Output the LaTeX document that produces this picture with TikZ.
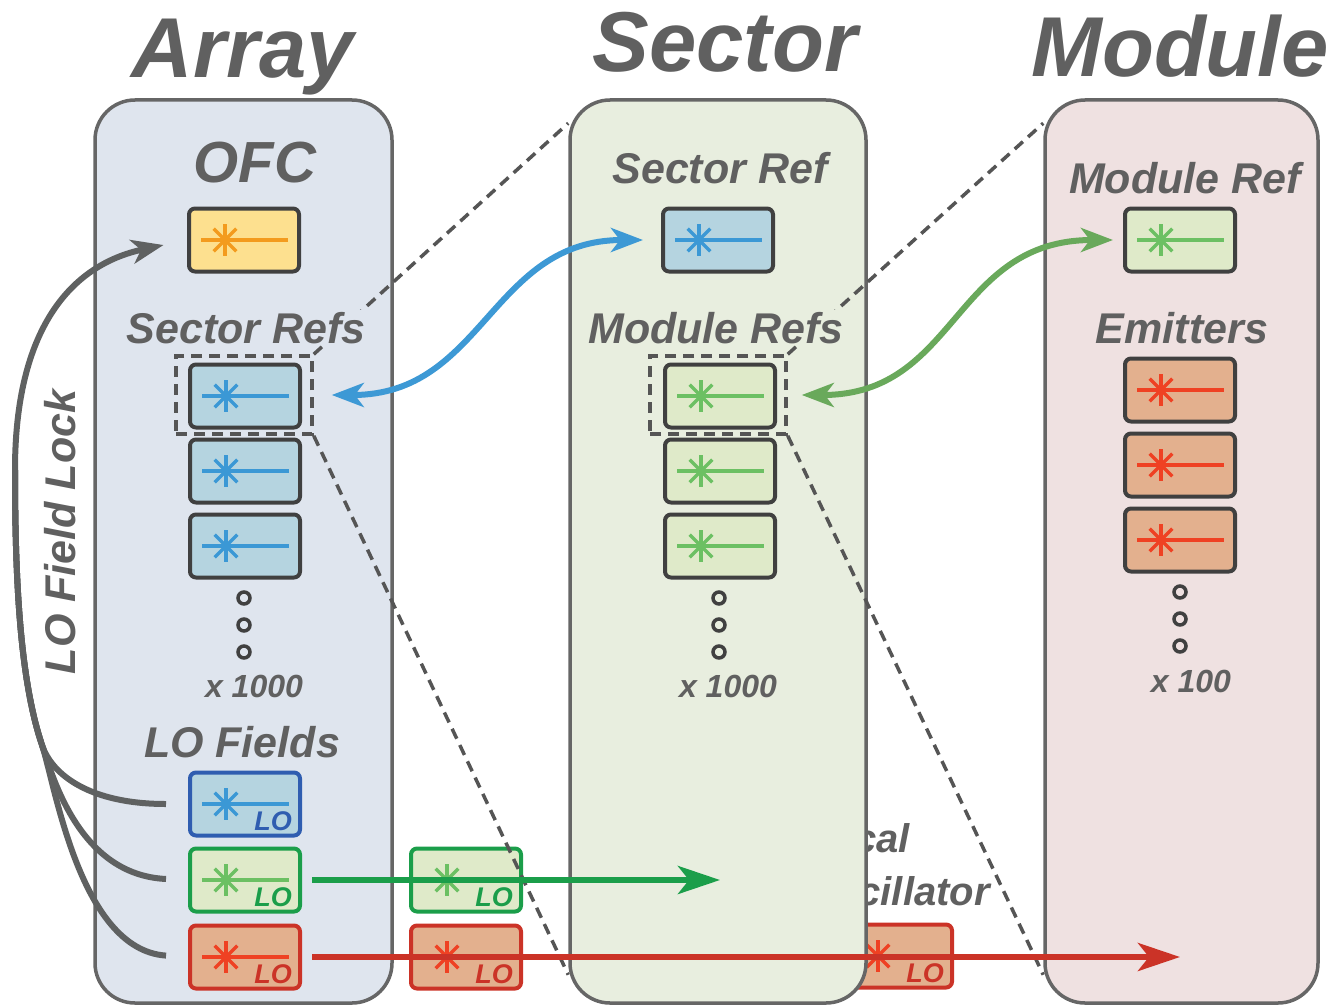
\documentclass[tikz,border=0pt]{standalone}
\usepackage{fontspec}
\setmainfont{Liberation Sans}
\usetikzlibrary{arrows.meta}

\definecolor{txtgray}{HTML}{606060}
\definecolor{panelline}{HTML}{666666}
\definecolor{boxline}{HTML}{404040}
\definecolor{dashgray}{HTML}{555555}
\definecolor{arrayfill}{HTML}{DFE5EE}
\definecolor{sectorfill}{HTML}{E8EEDF}
\definecolor{modulefill}{HTML}{EFE1E1}
\definecolor{yelfill}{HTML}{FDE08F}
\definecolor{symorange}{HTML}{F39B1E}
\definecolor{bluefill}{HTML}{B5D4E0}
\definecolor{symblue}{HTML}{3B98D5}
\definecolor{grnfill}{HTML}{DFEAC9}
\definecolor{symgreen}{HTML}{6CC063}
\definecolor{emitfill}{HTML}{E3B08E}
\definecolor{symred}{HTML}{EF4123}
\definecolor{loblue}{HTML}{2F5DB0}
\definecolor{logreen}{HTML}{1B9E4A}
\definecolor{lored}{HTML}{CB3327}
\definecolor{bluelink}{HTML}{3D99D5}
\definecolor{greenlink}{HTML}{69A95B}
\definecolor{lockgray}{HTML}{5F6161}

\begin{document}
\begin{tikzpicture}[x=1pt, y=-1pt,
   panel/.style={rectangle, rounded corners=40pt, draw=panelline, line width=3.5pt, inner sep=0pt},
   unit/.style 2 args={rectangle, rounded corners=6pt, minimum width=110pt, minimum height=63pt,
      inner sep=0pt, line width=4pt, draw=boxline, fill=#1,
      path picture={
         \draw[#2, line width=3.5pt] ([xshift=12pt]path picture bounding box.west) -- ([xshift=-11pt]path picture bounding box.east);
         \foreach \a in {45,90,135}
            \draw[#2, line width=3.5pt] ([xshift=36pt]path picture bounding box.west) +(\a:16pt) -- +(\a:-16pt);}},
   sel/.style={rectangle, draw=dashgray, line width=3.5pt, dash pattern=on 11pt off 7pt,
      minimum width=136pt, minimum height=78pt, inner sep=0pt},
   proj/.style={draw=dashgray, line width=3.5pt, dash pattern=on 11pt off 7pt},
   dot/.style={circle, draw=boxline, line width=3.5pt, minimum size=12pt, inner sep=0pt},
   lock/.style={lockgray, line width=6pt},
   ttl/.style={text=txtgray, anchor=base, inner sep=0pt, font=\fontsize{85}{90}\selectfont\bfseries\itshape},
   sub/.style={text=txtgray, anchor=base, inner sep=2pt, font=\fontsize{43}{50}\selectfont\bfseries\itshape},
   cnt/.style={text=txtgray, anchor=base, inner sep=0pt, font=\fontsize{32}{38}\selectfont\bfseries\itshape},
   lotxt/.style={text=#1, anchor=base east, inner sep=0pt, font=\fontsize{27}{30}\selectfont\bfseries\itshape},
   tip/.style={-{Stealth[length=32pt, width=24pt, inset=9pt]}},
   bitip/.style={{Stealth[length=32pt, width=24pt, inset=9pt]}-{Stealth[length=32pt, width=24pt, inset=9pt]}},
   bigtip/.style={-{Stealth[length=42pt, width=28pt, inset=11pt]}}]
\useasboundingbox (0,0) rectangle (1335,1006);

% local oscillator, partly behind the sector
\node[text=txtgray, anchor=base west, inner sep=0pt, font=\fontsize{40}{50}\selectfont\bfseries\itshape] (losc1) at (805,852) {Local};
\node[text=txtgray, anchor=base west, inner sep=0pt, font=\fontsize{40}{50}\selectfont\bfseries\itshape] (losc2) at (805,905) {Oscillator};
\node[unit={emitfill}{symred}, draw=lored] (blo) at (897,956) {};
\node[lotxt=lored] (blotxt) at ([xshift=-10pt, yshift=7.5pt]blo.south east) {LO};

% panels
\node[panel, fill=arrayfill, minimum width=297pt, minimum height=903pt] (arraypanel) at (243.5,551.5) {};
\node[panel, fill=sectorfill, minimum width=296pt, minimum height=903pt] (sectorpanel) at (718,551.5) {};
\node[panel, fill=modulefill, minimum width=273pt, minimum height=903pt] (modulepanel) at (1181.5,551.5) {};

\node[ttl] (ttlarray) at (243,78) {Array};
\node[ttl] (ttlsector) at (725,72) {Sector};
\node[ttl] (ttlmodule) at (1180,77) {Module};

% LO copies between array and sector
\node[unit={grnfill}{symgreen}, draw=logreen] (mlog) at (466,880) {};
\node[lotxt=logreen] (mlogtxt) at ([xshift=-10pt, yshift=7.5pt]mlog.south east) {LO};
\node[unit={emitfill}{symred}, draw=lored] (mlor) at (466,957) {};
\node[lotxt=lored] (mlortxt) at ([xshift=-10pt, yshift=7.5pt]mlor.south east) {LO};

% zoom lines
\node[sel] (srsel) at (244,395) {};
\node[sel] (mrsel) at (718,395) {};
\draw[proj] (srsel.north east) -- ([yshift=-25pt]sectorpanel.north west);
\draw[proj] (srsel.south east) -- ([yshift=30pt]sectorpanel.south west);
\draw[proj] (mrsel.north east) -- ([yshift=-25pt]modulepanel.north west);
\draw[proj] (mrsel.south east) -- ([yshift=30pt]modulepanel.south west);

% array
\node[sub, font=\fontsize{58}{64}\selectfont\bfseries\itshape] (ofc) at (255,182) {OFC};
\node[unit={yelfill}{symorange}] (ofcbox) at (244,240) {};
\node[sub, fill=arrayfill] (secrefs) at (246,343) {Sector Refs};
\node[unit={bluefill}{symblue}] (sr1) at (245,396) {};
\node[unit={bluefill}{symblue}] (sr2) at (245,471) {};
\node[unit={bluefill}{symblue}] (sr3) at (245,546) {};
\foreach \y [count=\i] in {598,625,652}
   \node[dot] (adot\i) at (244,\y) {};
\node[cnt] (xarr) at (254,697) {x 1000};
\node[sub] (lofields) at (242,757) {LO Fields};
\node[unit={bluefill}{symblue}, draw=loblue] (lob) at (245,804) {};
\node[lotxt=loblue] (lobtxt) at ([xshift=-10pt, yshift=7.5pt]lob.south east) {LO};
\node[unit={grnfill}{symgreen}, draw=logreen] (log) at (245,880) {};
\node[lotxt=logreen] (logtxt) at ([xshift=-10pt, yshift=7.5pt]log.south east) {LO};
\node[unit={emitfill}{symred}, draw=lored] (lor) at (245,957) {};
\node[lotxt=lored] (lortxt) at ([xshift=-10pt, yshift=7.5pt]lor.south east) {LO};
\node[text=txtgray, rotate=90, anchor=base, inner sep=0pt, font=\fontsize{43}{50}\selectfont\bfseries\itshape] (lock) at (75,532) {LO Field Lock};

% sector
\node[sub] (secref) at (720,183) {Sector Ref};
\node[unit={bluefill}{symblue}] (secrefbox) at (718,240) {};
\node[sub, fill=sectorfill] (modrefs) at (716,343) {Module Refs};
\node[unit={grnfill}{symgreen}] (mr1) at (720,396) {};
\node[unit={grnfill}{symgreen}] (mr2) at (720,471) {};
\node[unit={grnfill}{symgreen}] (mr3) at (720,546) {};
\foreach \y [count=\i] in {598,625,652}
   \node[dot] (sdot\i) at (719,\y) {};
\node[cnt] (xsec) at (728,697) {x 1000};

% module
\node[sub] (modref) at (1185,193) {Module Ref};
\node[unit={grnfill}{symgreen}] (modrefbox) at (1180,240) {};
\node[sub] (emit) at (1182,343) {Emitters};
\node[unit={emitfill}{symred}] (em1) at (1180,390) {};
\node[unit={emitfill}{symred}] (em2) at (1180,465) {};
\node[unit={emitfill}{symred}] (em3) at (1180,540) {};
\foreach \y [count=\i] in {592,619,646}
   \node[dot] (mdot\i) at (1180,\y) {};
\node[cnt] (xmod) at (1191,692) {x 100};

% links
\draw[bluelink, line width=6pt, bitip, shorten <=18pt, shorten >=18pt]
   (srsel.east) .. controls +(170,0) and +(-170,0) .. (secrefbox.west);
\draw[greenlink, line width=6pt, bitip, shorten <=14pt, shorten >=10pt]
   (mrsel.east) .. controls +(170,0) and +(-170,0) .. (modrefbox.west);

% lock loop
\coordinate (lockfork) at (42,745);
\coordinate (lockbend) at (15,470);
\draw[lock, tip, shorten <=22pt, shorten >=24pt]
   (lob.west) .. controls (90,804) and (52,775) .. (lockfork)
   .. controls (20,680) and (15,580) .. (lockbend)
   .. controls (15,330) and (70,265) .. (ofcbox.west);
\draw[lock, shorten <=22pt]
   (log.west) .. controls (80,875) and (53,778) .. (lockfork)
   .. controls (20,680) and (15,580) .. (lockbend);
\draw[lock, shorten <=22pt]
   (lor.west) .. controls (80,950) and (55,784) .. (lockfork)
   .. controls (20,680) and (15,580) .. (lockbend);

% LO distribution
\coordinate (gtip) at (720,880);
\coordinate (rtip) at (1180,957);
\draw[logreen, line width=6pt, bigtip, shorten <=10pt] (log.east) -- (gtip);
\draw[lored, line width=6pt, bigtip, shorten <=10pt] (lor.east) -- (rtip);
\end{tikzpicture}
\end{document}
